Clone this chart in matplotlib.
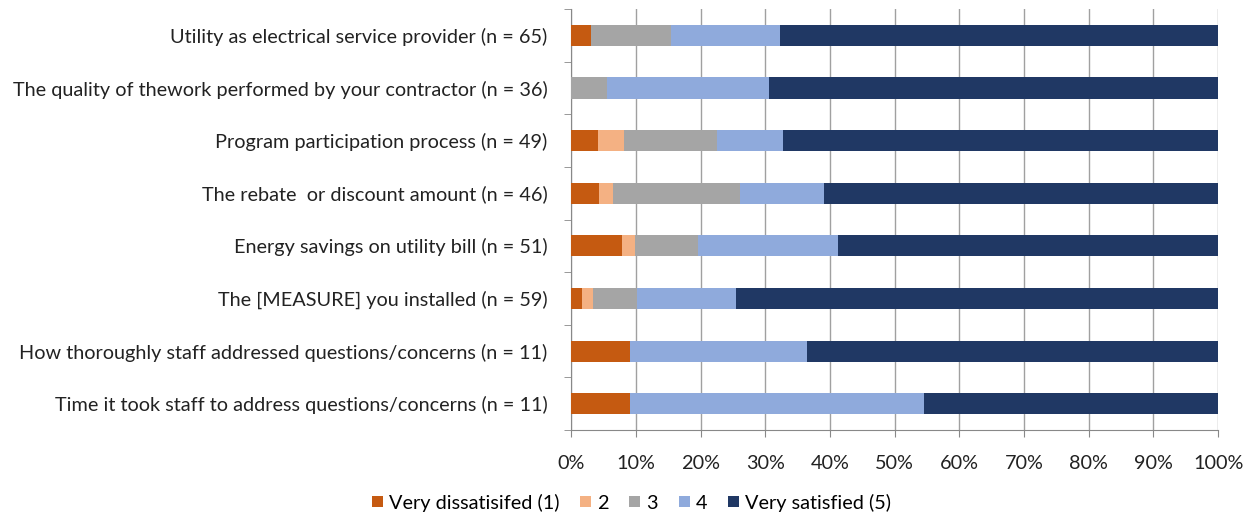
import numpy as np
from matplotlib import pyplot as plt

categories = [
    'Utility as electrical service provider (n = 65)',
    'The quality of thework performed by your contractor (n = 36)',
    'Program participation process (n = 49)',
    'The rebate  or discount amount (n = 46)',
    'Energy savings on utility bill (n = 51)',
    'The [MEASURE] you installed (n = 59)',
    'How thoroughly staff addressed questions/concerns (n = 11)',
    'Time it took staff to address questions/concerns (n = 11)',
]

# percent of respondents per rating
very_dissatisfied = [3.1, 0.0, 4.1, 4.3, 7.8, 1.7, 9.1, 9.1]
rating_2 = [0.0, 0.0, 4.1, 2.2, 2.0, 1.7, 0.0, 0.0]
rating_3 = [12.3, 5.6, 14.3, 19.6, 9.8, 6.8, 0.0, 0.0]
rating_4 = [16.9, 25.0, 10.2, 13.0, 21.6, 15.3, 27.3, 45.5]
very_satisfied = [67.7, 69.4, 67.3, 60.9, 58.8, 74.6, 63.6, 45.5]

series_names = ['Very dissatisifed (1)', '2', '3', '4', 'Very satisfied (5)']
colors = ['#C55A11', '#F4B183', '#A5A5A5', '#8FAADC', '#203864']

plt.rcParams['font.family'] = ['Lato', 'DejaVu Sans']
fs = 14.3

fig = plt.figure(figsize=(12.5, 5.18), dpi=100)
ax = fig.add_axes([0.457, 0.170, 0.5175, 0.8125])

y = np.arange(len(categories))
left = np.zeros(len(categories))
for name, vals, col in zip(series_names,
                           [very_dissatisfied, rating_2, rating_3, rating_4, very_satisfied],
                           colors):
    vals = np.array(vals)
    ax.barh(y, vals, left=left, height=0.4, color=col, label=name, zorder=3)
    left += vals

ax.set_ylim(len(categories) - 0.5, -0.5)
ax.set_xlim(0, 100)
ax.set_yticks(y)
ax.set_yticklabels(categories, fontsize=fs, color='#222222')
ax.set_yticks(np.arange(-0.5, len(categories), 1), minor=True)
ax.tick_params(axis='y', which='major', length=0, pad=17)
ax.tick_params(axis='y', which='minor', length=5, color='#888888')

ax.set_xticks(np.arange(0, 101, 10))
ax.set_xticklabels([f'{v}%' for v in range(0, 101, 10)], fontsize=fs, color='#222222')
ax.tick_params(axis='x', length=5, color='#888888', pad=13)
ax.grid(axis='x', color='#A0A0A0', linewidth=1, zorder=0)

for side in ['top', 'right']:
    ax.spines[side].set_visible(False)
for side in ['left', 'bottom']:
    ax.spines[side].set_color('#888888')

fig.legend(loc='lower center', bbox_to_anchor=(0.505, -0.022), ncol=5, frameon=False,
           fontsize=fs, handlelength=0.55, handleheight=0.55, handletextpad=0.3,
           columnspacing=1.05)

plt.savefig('out.png', dpi=100)
